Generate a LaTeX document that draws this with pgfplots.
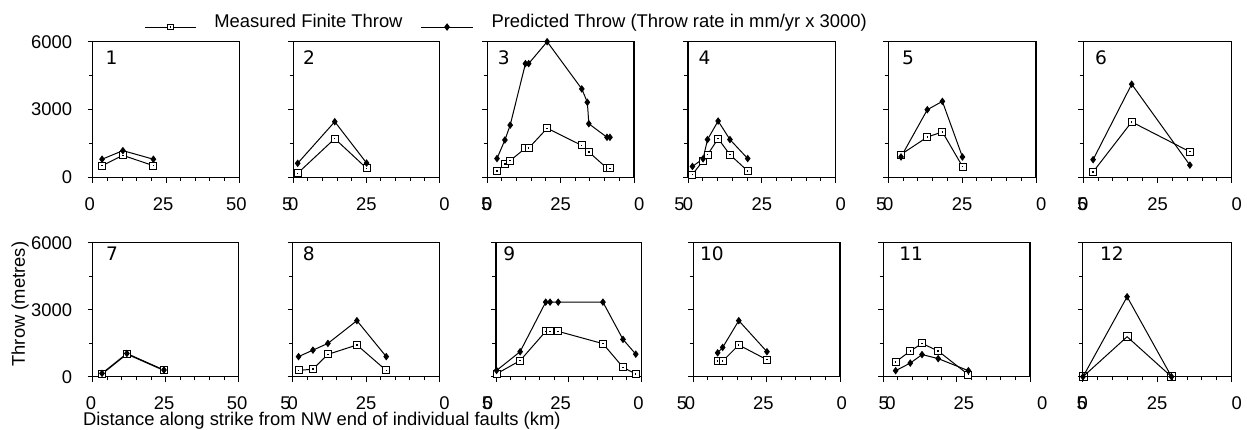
\documentclass[border=0pt]{standalone}
\usepackage{fontspec}
\setmainfont{Liberation Sans}
\newfontfamily\numfont{DejaVu Sans}
\usepackage{pgfplots}
\pgfplotsset{compat=1.18}

\pgfdeclareplotmark{sqdot}{%
  \pgfpathrectangle{\pgfqpoint{-\pgfplotmarksize}{-\pgfplotmarksize}}{\pgfqpoint{2\pgfplotmarksize}{2\pgfplotmarksize}}%
  \pgfusepathqfillstroke
  \begin{pgfscope}%
  \pgfsetfillcolor{black}%
  \pgfpathrectangle{\pgfqpoint{-0.35pt}{-0.35pt}}{\pgfqpoint{0.7pt}{0.7pt}}%
  \pgfusepathqfill
  \end{pgfscope}%
}

\newcommand{\fz}[1]{\llap{5\kern-#1em}0}
\newcommand{\fs}{\fontsize{9.2}{11}\selectfont}

\tikzset{num/.style={anchor=north west, inner sep=0pt, font=\numfont\fontsize{9.3}{11}\selectfont}}

\pgfplotsset{
  panel/.style={
    scale only axis, anchor=south west,
    xmin=0, xmax=50, ymin=0, ymax=6000,
    xtick={0,25,50}, minor xtick={5,10,15,20,30,35,40,45},
    ytick={0,3000,6000}, minor ytick={1500,4500},
    scaled ticks=false,
    tick align=outside, tick pos=left,
    major tick length=2.6pt, minor tick length=1.8pt,
    axis line style={line width=0.6pt},
    every tick/.append style={black, line width=0.5pt},
    /pgf/number format/assume math mode=true,
    tick label style={font=\fs},
    xticklabel style={yshift=-3.8pt},
    yticklabel style={xshift=-4.2pt},
    yticklabels={},
    clip=false,
  },
  row1/.style={height=67.8pt},
  row2/.style={height=67.0pt},
  meas/.style={black, line width=0.5pt, mark=sqdot, mark size=1.75pt,
    mark options={fill=white, line width=0.45pt, solid},
    legend image code/.code={%
      \draw[mark repeat=2, mark phase=2, mark size=1.35pt] plot coordinates {(0pt,-2.5pt) (12.75pt,-2.5pt) (25.5pt,-2.5pt)};
      \path (0pt,-5pt) (0pt,5pt);}},
  pred/.style={black, line width=0.5pt, mark=diamond*, mark size=1.5pt,
    mark options={fill=black, solid},
    legend image code/.code={%
      \draw[mark repeat=2, mark phase=2] plot coordinates {(0pt,-2.5pt) (13pt,-2.5pt) (26pt,-2.5pt)};
      \path (0pt,-5pt) (0pt,5pt);}},
}

\begin{document}
\begin{tikzpicture}[font=\fs]
\useasboundingbox (0pt,0pt) rectangle (623.5pt,214.5pt);

% ---------- Row 1 ----------
\begin{axis}[panel, row1, at={(46.35pt,125.85pt)}, width=73.3pt,
  xticklabels={0,25,50}, yticklabels={0,3000,6000},
  xticklabel style={xshift=-1.5pt},
  legend columns=2,
  legend style={at={(axis description cs:0.35,1.145)}, anchor=west, draw=none, fill=none,
    inner sep=0pt, column sep=9pt, nodes={inner sep=0pt}, font=\fs},
  legend cell align=left]
\addplot[meas] coordinates {(3.2,516) (10.3,970) (20.7,516)};
\addlegendentry{Measured Finite Throw}
\addplot[pred] coordinates {(3.2,800) (10.3,1180) (20.7,800)};
\addlegendentry{Predicted Throw (Throw rate in mm/yr x 3000)}
\node[num, xshift=6.3pt, yshift=-4.2pt] at (rel axis cs:0,1) {1};
\end{axis}

\begin{axis}[panel, row1, at={(146.65pt,125.85pt)}, width=73.0pt,
  xticklabels={\fz{0.22},25,\phantom{5}0}]
\addplot[meas] coordinates {(1.5,180) (14.2,1710) (25.1,400)};
\addplot[pred] coordinates {(1.5,620) (14.2,2460) (25.1,630)};
\node[num, xshift=4.7pt, yshift=-4.2pt] at (rel axis cs:0,1) {2};
\end{axis}

\begin{axis}[panel, row1, at={(243.65pt,125.85pt)}, width=73.35pt,
  xticklabels={\fz{0.5},25,\phantom{5}0}]
\addplot[meas] coordinates {(3.3,280) (6.0,580) (7.8,740) (13.0,1290) (14.1,1290) (20.4,2170) (32.2,1410) (34.6,1120) (40.8,400) (41.8,400)};
\addplot[pred] coordinates {(3.3,830) (6.0,1650) (7.8,2310) (13.0,5030) (14.1,5030) (20.4,6000) (32.2,3910) (34.1,3320) (34.6,2370) (40.8,1770) (41.8,1770)};
\node[num, xshift=5.1pt, yshift=-4.2pt] at (rel axis cs:0,1) {3};
\end{axis}

\begin{axis}[panel, row1, at={(344.0pt,125.85pt)}, width=73.85pt,
  xticklabels={\fz{0.1},25,\phantom{5}0}]
\addplot[meas] coordinates {(1.5,120) (5.1,740) (6.6,1000) (10.2,1710) (14.2,1000) (20.2,280)};
\addplot[pred] coordinates {(1.5,480) (5.1,820) (6.6,1670) (10.2,2490) (14.2,1670) (20.2,830)};
\node[num, xshift=5.1pt, yshift=-4.2pt] at (rel axis cs:0,1) {4};
\end{axis}

\begin{axis}[panel, row1, at={(444.15pt,125.85pt)}, width=73.85pt,
  xticklabels={\fz{0.17},25,\phantom{5}0}]
\addplot[meas] coordinates {(4.3,1010) (13.2,1780) (18.3,2010) (25.1,480)};
\addplot[pred] coordinates {(4.3,900) (13.2,2990) (18.3,3360) (25.1,900)};
\node[num, xshift=6.7pt, yshift=-4.2pt] at (rel axis cs:0,1) {5};
\end{axis}

\begin{axis}[panel, row1, at={(541.65pt,125.85pt)}, width=74.2pt,
  xticklabels={\fz{0.5},25,\phantom{5}0}]
\addplot[meas] coordinates {(3.3,240) (16.3,2450) (35.9,1130)};
\addplot[pred] coordinates {(3.3,780) (16.3,4120) (35.9,540)};
\node[num, xshift=5.7pt, yshift=-4.2pt] at (rel axis cs:0,1) {6};
\end{axis}

% ---------- Row 2 ----------
\begin{axis}[panel, row2, at={(46.35pt,26.15pt)}, width=73.0pt,
  xticklabels={0,25,50}, yticklabels={0,3000,6000},
  xticklabel style={xshift=-0.8pt}]
\addplot[meas] coordinates {(3.2,120) (11.7,1010) (24.4,280)};
\addplot[pred] coordinates {(3.2,150) (11.7,1040) (24.4,300)};
\node[num, xshift=6.5pt, yshift=-1.9pt] at (rel axis cs:0,1) {7};
\end{axis}

\begin{axis}[panel, row2, at={(146.35pt,26.15pt)}, width=73.3pt,
  xticklabels={\fz{0.17},25,\phantom{5}0}]
\addplot[meas] coordinates {(2.0,280) (6.9,340) (12.0,1000) (21.9,1420) (31.9,280)};
\addplot[pred] coordinates {(2.0,900) (6.9,1190) (12.0,1490) (21.9,2510) (31.9,900)};
\node[num, xshift=4.9pt, yshift=-1.9pt] at (rel axis cs:0,1) {8};
\end{axis}

\begin{axis}[panel, row2, at={(248.0pt,26.15pt)}, width=72.65pt,
  xticklabels={\fz{0.5},25,\phantom{5}0},
  xticklabel style={xshift=-4pt}]
\addplot[meas] coordinates {(0.2,130) (8.3,720) (17.1,2030) (18.6,2030) (21.4,2030) (36.8,1480) (43.7,420) (48.1,120)};
\addplot[pred] coordinates {(0.2,280) (8.3,1120) (17.1,3340) (18.6,3340) (21.4,3340) (36.8,3340) (43.7,1670) (48.1,1010)};
\node[num, xshift=3.5pt, yshift=-1.9pt] at (rel axis cs:0,1) {9};
\end{axis}

\begin{axis}[panel, row2, at={(346.65pt,26.15pt)}, width=73.35pt,
  xticklabels={\fz{0.13},25,\phantom{5}0},
  xticklabel style={xshift=-1.7pt}]
\addplot[meas] coordinates {(8.3,700) (10.0,700) (15.5,1420) (25.1,760)};
\addplot[pred] coordinates {(8.3,1070) (10.0,1310) (15.5,2510) (25.1,1120)};
\node[num, xshift=3.2pt, yshift=-1.9pt] at (rel axis cs:0,1) {10};
\end{axis}

\begin{axis}[panel, row2, at={(441.65pt,26.15pt)}, width=73.35pt,
  xticklabels={\fz{0.19},25,\phantom{5}0},
  xticklabel style={xshift=3.6pt}]
\addplot[meas] coordinates {(4.2,660) (9.2,1150) (13.2,1490) (18.7,1150) (29.0,90)};
\addplot[pred] coordinates {(4.2,270) (9.2,610) (13.2,990) (18.7,810) (29.0,270)};
\node[num, xshift=7.8pt, yshift=-1.9pt] at (rel axis cs:0,1) {11};
\end{axis}

\begin{axis}[panel, row2, at={(541.35pt,26.15pt)}, width=74.5pt,
  xticklabels={\fz{0.5},25,\phantom{5}0}]
\addplot[meas, mark=square, mark size=2pt] coordinates {(0.1,0) (14.9,1790) (29.8,0)};
\addplot[pred] coordinates {(0.1,0) (14.9,3580) (29.8,0)};
\node[num, xshift=8.5pt, yshift=-1.9pt] at (rel axis cs:0,1) {12};
\end{axis}

% axis titles
\node[anchor=base west, inner sep=0pt] at (41.3pt,1.9pt) {Distance along strike from NW end of individual faults (km)};
\node[rotate=90, anchor=base, inner sep=0pt] at (12.45pt,62.4pt) {Throw (metres)};
\end{tikzpicture}
\end{document}
